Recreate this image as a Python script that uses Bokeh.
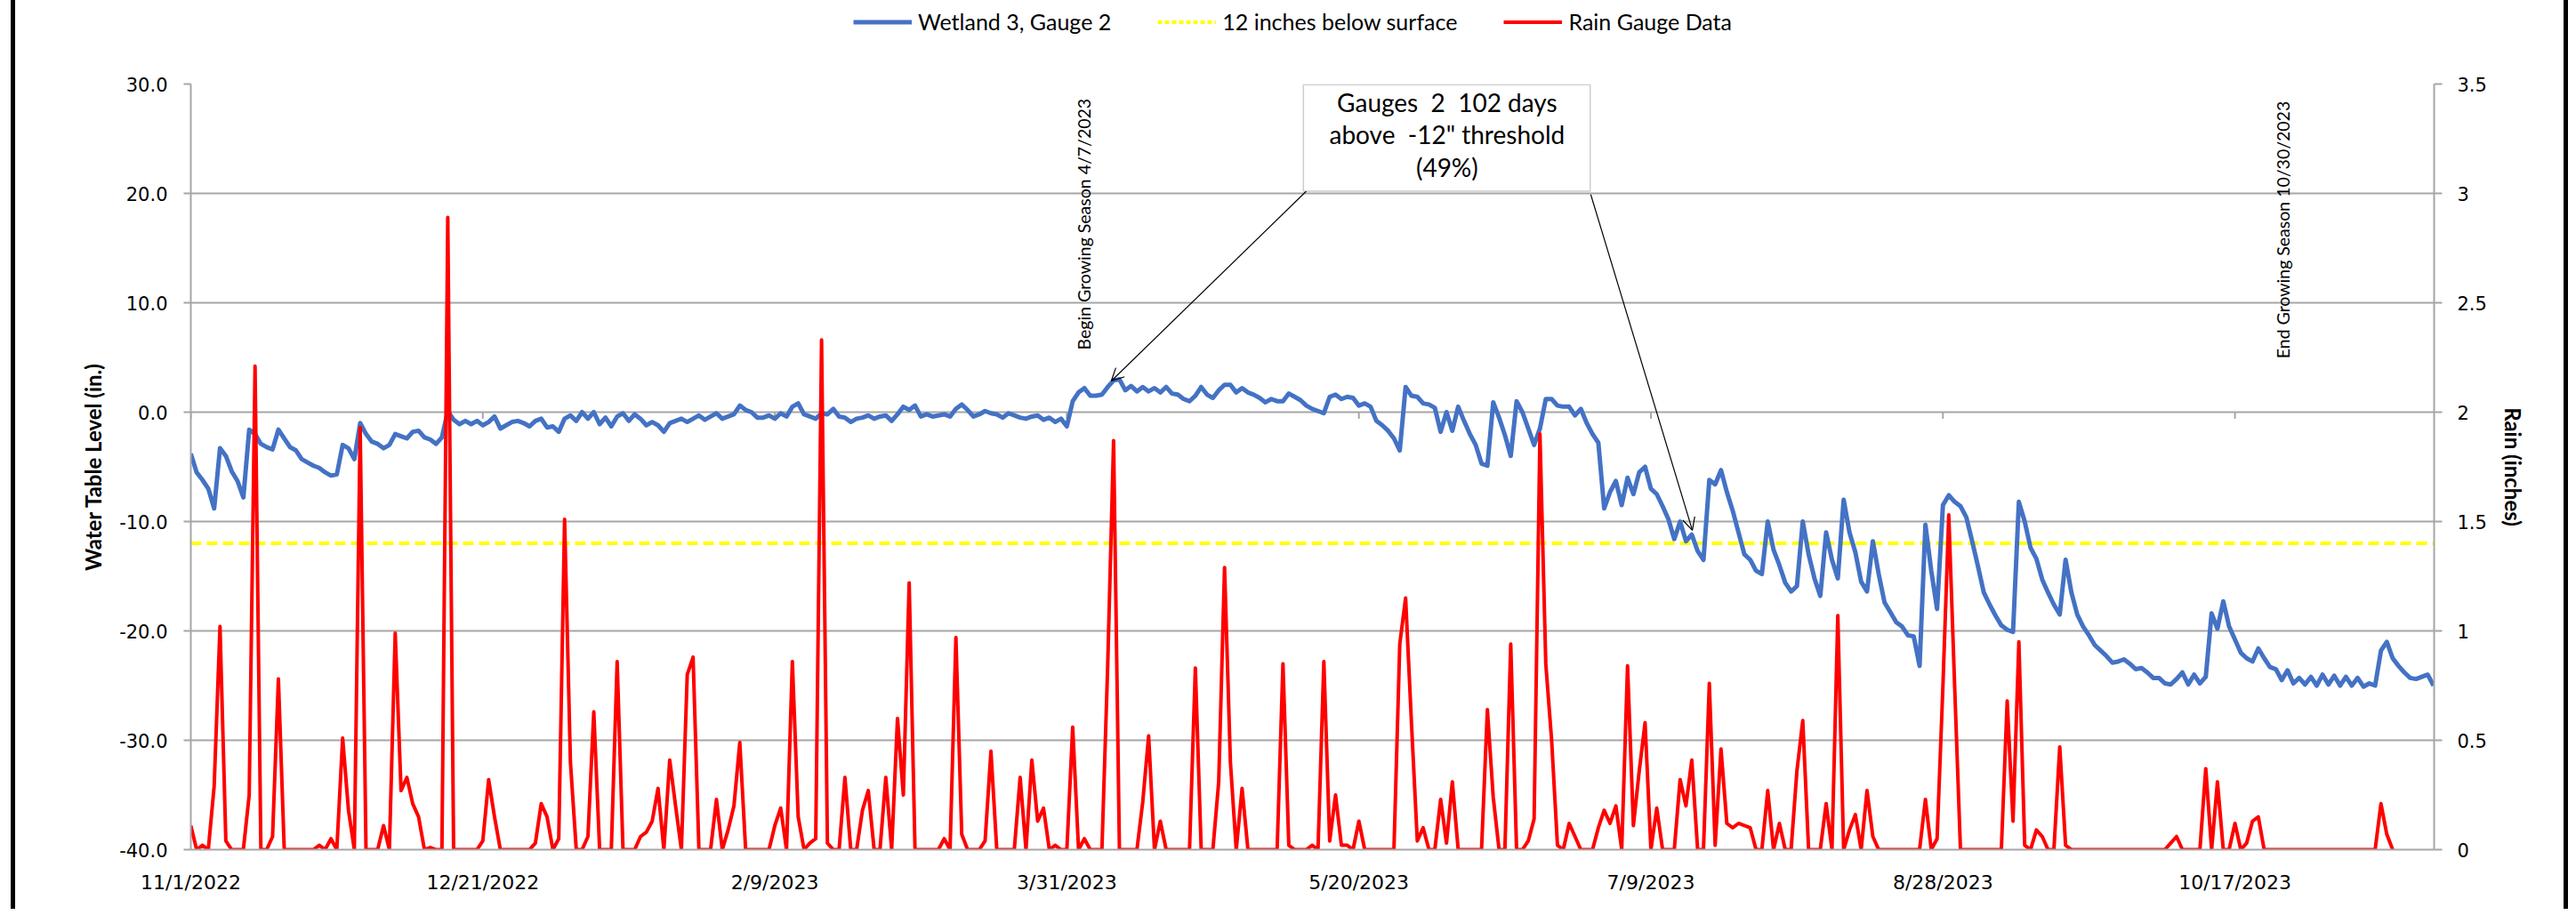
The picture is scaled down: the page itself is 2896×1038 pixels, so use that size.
import math
import pandas as pd
from bokeh.plotting import figure
from bokeh.layouts import row, column
from bokeh.models import (Range1d, LinearAxis, FixedTicker, Legend, LegendItem, Label,
                          Arrow, OpenHead, BoxAnnotation, NumeralTickFormatter, Div, Spacer)
from bokeh.embed import file_html
from bokeh.resources import INLINE

# ---------------- data ----------------
START_DATE = "11/1/2022"
TICK_LABELS = ["11/1/2022", "12/21/2022", "2/9/2023", "3/31/2023",
               "5/20/2023", "7/9/2023", "8/28/2023", "10/17/2023"]
LEVEL_TICKS = [-40, -30, -20, -10, 0, 10, 20, 30]
RAIN_TICKS = [0, 0.5, 1, 1.5, 2, 2.5, 3, 3.5]
THRESHOLD = -12.0
SERIES_NAMES = ["Wetland 3, Gauge 2", "12 inches below surface", "Rain Gauge Data"]

# daily water table level (in.), starting 11/1/2022
WATER_LEVEL = [
    -3.8, -5.5, -6.2, -7.0, -8.8, -3.3, -4.0, -5.4, -6.3, -7.8,
    -1.6, -2.0, -2.9, -3.2, -3.4, -1.6, -2.4, -3.2, -3.5, -4.3,
    -4.6, -4.9, -5.1, -5.5, -5.8, -5.7, -3.0, -3.3, -4.3, -1.0,
    -2.0, -2.7, -2.9, -3.3, -3.0, -2.0, -2.2, -2.4, -1.8, -1.7,
    -2.3, -2.5, -2.9, -2.3, 0.1, -0.7, -1.1, -0.8, -1.1, -0.8,
    -1.2, -0.9, -0.4, -1.5, -1.2, -0.9, -0.8, -1.0, -1.3, -0.8,
    -0.6, -1.4, -1.3, -1.8, -0.6, -0.3, -0.8, 0.0, -0.6, 0.0,
    -1.1, -0.5, -1.3, -0.4, -0.1, -0.8, -0.2, -0.6, -1.2, -0.9,
    -1.2, -1.8, -1.0, -0.8, -0.6, -0.9, -0.6, -0.3, -0.7, -0.4,
    -0.1, -0.6, -0.4, -0.2, 0.6, 0.2, 0.0, -0.5, -0.5, -0.3,
    -0.6, -0.1, -0.4, 0.5, 0.8, -0.2, -0.4, -0.6, -0.1, -0.2,
    0.3, -0.4, -0.5, -0.9, -0.6, -0.5, -0.3, -0.6, -0.4, -0.3,
    -0.8, -0.2, 0.5, 0.2, 0.6, -0.4, -0.2, -0.4, -0.3, -0.2,
    -0.4, 0.3, 0.7, 0.2, -0.4, -0.2, 0.1, -0.1, -0.2, -0.5,
    -0.1, -0.3, -0.5, -0.6, -0.4, -0.3, -0.7, -0.5, -0.9, -0.6,
    -1.3, 1.0, 1.8, 2.2, 1.5, 1.5, 1.6, 2.3, 2.9, 3.0,
    2.0, 2.4, 1.9, 2.3, 1.9, 2.2, 1.8, 2.3, 1.7, 1.6,
    1.2, 1.0, 1.5, 2.3, 1.6, 1.3, 2.0, 2.5, 2.5, 1.8,
    2.2, 1.8, 1.6, 1.3, 0.9, 1.2, 1.0, 1.0, 1.7, 1.4,
    1.1, 0.6, 0.3, 0.1, -0.1, 1.4, 1.6, 1.2, 1.4, 1.3,
    0.6, 0.8, 0.5, -0.8, -1.2, -1.7, -2.4, -3.5, 2.3, 1.5,
    1.4, 0.8, 0.7, 0.4, -1.8, 0.0, -1.7, 0.5, -0.8, -2.0,
    -3.0, -4.7, -4.9, 0.9, -0.5, -2.1, -4.0, 1.0, 0.0, -1.5,
    -3.0, -1.5, 1.2, 1.2, 0.6, 0.5, 0.5, -0.3, 0.3, -1.0,
    -2.0, -2.8, -8.8, -7.3, -6.3, -8.5, -6.0, -7.5, -5.5, -5.0,
    -7.0, -7.5, -8.6, -9.8, -11.6, -10.0, -11.8, -11.2, -12.7, -13.5,
    -6.2, -6.6, -5.3, -7.3, -9.0, -11.0, -13.0, -13.5, -14.5, -14.8,
    -10.0, -12.6, -14.0, -15.6, -16.4, -15.9, -10.0, -13.0, -15.2, -16.8,
    -11.0, -13.5, -15.2, -8.0, -11.0, -12.8, -15.5, -16.4, -11.8, -14.8,
    -17.4, -18.3, -19.2, -19.6, -20.4, -20.5, -23.2, -10.3, -14.5, -18.0,
    -8.5, -7.6, -8.2, -8.6, -9.6, -11.8, -14.1, -16.5, -17.6, -18.6,
    -19.5, -19.9, -20.1, -8.2, -10.0, -12.4, -13.4, -15.3, -16.5, -17.6,
    -18.5, -13.5, -16.5, -18.5, -19.6, -20.4, -21.3, -21.8, -22.3, -22.9,
    -22.8, -22.6, -23.0, -23.5, -23.4, -23.8, -24.3, -24.3, -24.8, -24.9,
    -24.4, -23.8, -24.9, -24.0, -24.8, -24.2, -18.4, -19.8, -17.3, -19.6,
    -20.8, -22.0, -22.5, -22.8, -21.6, -22.5, -23.3, -23.5, -24.5, -23.6,
    -24.8, -24.3, -24.9, -24.2, -25.0, -24.0, -24.9, -24.1, -25.0, -24.2,
    -25.0, -24.3, -25.1, -24.8, -25.0, -21.8, -21.0, -22.5, -23.2, -23.8,
    -24.3, -24.4, -24.2, -24.0, -25.0,
]

# daily rain (inches), starting 11/1/2022
RAIN = [
    0.11, 0, 0.02, 0, 0.29, 1.02, 0.04, 0, 0, 0,
    0.25, 2.21, 0, 0, 0.06, 0.78, 0, 0, 0, 0,
    0, 0, 0.02, 0, 0.05, 0, 0.51, 0.18, 0, 1.93,
    0, 0, 0, 0.11, 0, 0.99, 0.27, 0.33, 0.21, 0.15,
    0, 0.01, 0, 0, 2.89, 0, 0, 0, 0, 0,
    0.04, 0.32, 0.15, 0, 0, 0, 0, 0, 0, 0.03,
    0.21, 0.15, 0, 0.05, 1.51, 0.40, 0, 0, 0.06, 0.63,
    0, 0, 0, 0.86, 0, 0, 0, 0.06, 0.08, 0.13,
    0.28, 0, 0.41, 0.20, 0, 0.80, 0.88, 0, 0, 0,
    0.23, 0, 0.09, 0.20, 0.49, 0, 0, 0, 0, 0,
    0.11, 0.19, 0, 0.86, 0.15, 0, 0.03, 0.05, 2.33, 0.03,
    0, 0, 0.33, 0, 0, 0.18, 0.27, 0, 0, 0.33,
    0, 0.60, 0.25, 1.22, 0, 0, 0, 0, 0, 0.05,
    0, 0.97, 0.07, 0, 0, 0, 0.04, 0.45, 0, 0,
    0, 0, 0.33, 0, 0.41, 0.13, 0.19, 0, 0.02, 0,
    0, 0.56, 0, 0.05, 0, 0, 0, 0.85, 1.87, 0,
    0, 0, 0, 0.22, 0.52, 0, 0.13, 0, 0, 0,
    0, 0, 0.83, 0, 0, 0, 0.31, 1.29, 0.40, 0,
    0.28, 0, 0, 0, 0, 0, 0, 0.85, 0.02, 0,
    0, 0, 0.02, 0, 0.86, 0.04, 0.25, 0.02, 0.02, 0,
    0.13, 0, 0, 0, 0, 0, 0, 0.94, 1.15, 0.58,
    0.04, 0.10, 0, 0, 0.23, 0.03, 0.31, 0, 0, 0,
    0, 0, 0.64, 0.24, 0, 0, 0.94, 0, 0, 0.04,
    0.14, 1.90, 0.85, 0.50, 0.02, 0, 0.12, 0.06, 0, 0,
    0, 0.10, 0.18, 0.12, 0.20, 0, 0.84, 0.11, 0.36, 0.58,
    0, 0.19, 0, 0, 0, 0.32, 0.20, 0.41, 0, 0,
    0.76, 0.02, 0.46, 0.12, 0.10, 0.12, 0.11, 0.10, 0, 0,
    0.27, 0, 0.12, 0, 0, 0.36, 0.59, 0, 0, 0,
    0.21, 0, 1.07, 0, 0.09, 0.16, 0, 0.27, 0.06, 0,
    0, 0, 0, 0, 0, 0, 0, 0.23, 0, 0.05,
    0.75, 1.53, 0.75, 0, 0, 0, 0, 0, 0, 0,
    0, 0.68, 0.13, 0.95, 0.02, 0, 0.09, 0.06, 0, 0,
    0.47, 0.02, 0, 0, 0, 0, 0, 0, 0, 0,
    0, 0, 0, 0, 0, 0, 0, 0, 0, 0.03,
    0.06, 0, 0, 0, 0, 0.37, 0, 0.31, 0, 0,
    0.12, 0, 0.03, 0.13, 0.15, 0, 0, 0, 0, 0,
    0, 0, 0, 0, 0, 0, 0, 0, 0, 0,
    0, 0, 0, 0, 0, 0.21, 0.07, 0,
]

BOX_TEXT = ["Gauges\u00a0 2\u00a0 102 days", "above\u00a0 -12\" threshold", "(49%)"]
BEGIN_TEXT = "Begin Growing Season 4/7/2023"
END_TEXT = "End Growing Season 10/30/2023"

# ---------------- derived ----------------
start = pd.to_datetime(START_DATE, format="%m/%d/%Y")
tick_days = [int((pd.to_datetime(t, format="%m/%d/%Y") - start).days) for t in TICK_LABELS]
level_days = list(range(len(WATER_LEVEL)))
rain_days = list(range(len(RAIN)))

# ---------------- styles ----------------
GRID = "#a6a6a6"
CAL = "Lato"
VER = "DejaVu Sans"
BLUE, YELLOW, RED = "#4472C4", "#FFFF00", "#FF0000"
BLUE_W, YELLOW_W, RED_W = 5, 4, 4
YELLOW_DASH = "12 6"

OFF_X = 17                      # figures start right after the left black border
W = 2865
TOP_H = 66                      # legend strip
MAIN_H = 1022 - TOP_H
FL, FR = 214 - OFF_X, 2736 - OFF_X
FT, FB = 94 - TOP_H, 955 - TOP_H

# ---------------- legend strip ----------------
lg = figure(width=W, height=TOP_H, output_backend="svg", toolbar_location=None,
            x_axis_type=None, y_axis_type=None, x_range=Range1d(0, 1), y_range=Range1d(0, 1),
            min_border=0, outline_line_color=None,
            background_fill_color="white", border_fill_color="white")
lg.grid.visible = False
# legend-only renderers: their points lie outside the strip's visible range
r1 = lg.line(x=[5, 6], y=[5, 6], line_color=BLUE, line_width=BLUE_W)
r2 = lg.line(x=[5, 6], y=[5, 6], line_color=YELLOW, line_width=YELLOW_W, line_dash="5 3")
r3 = lg.line(x=[5, 6], y=[5, 6], line_color=RED, line_width=RED_W)
legend = Legend(items=[LegendItem(label=SERIES_NAMES[0], renderers=[r1]),
                       LegendItem(label=SERIES_NAMES[1], renderers=[r2]),
                       LegendItem(label=SERIES_NAMES[2], renderers=[r3])],
                orientation="horizontal", location=(745, 27),
                label_text_font=CAL, label_text_font_size="25px", label_text_color="black",
                glyph_width=66, glyph_height=25, label_height=25, label_standoff=7,
                spacing=52, padding=0, margin=0, border_line_color=None,
                background_fill_alpha=0)
lg.add_layout(legend)

# ---------------- main figure ----------------
p = figure(width=W, height=MAIN_H, output_backend="svg", toolbar_location=None,
           x_range=Range1d(0, 384.1), y_range=Range1d(-40, 30),
           min_border_left=FL, min_border_right=W - FR,
           min_border_top=FT, min_border_bottom=MAIN_H - FB,
           background_fill_color="white", border_fill_color="white",
           outline_line_color=None)
p.extra_y_ranges = {"rain": Range1d(0, 3.5)}

# x axis
xa = p.xaxis[0]
xa.ticker = FixedTicker(ticks=tick_days)
xa.major_label_overrides = {d: lab for d, lab in zip(tick_days, TICK_LABELS)}
xa.major_tick_out = 0
xa.major_tick_in = 0
xa.minor_tick_out = 0
xa.minor_tick_in = 0
xa.axis_line_color = GRID
xa.axis_line_width = 2
xa.major_label_text_font = VER
xa.major_label_text_font_size = "22px"
xa.major_label_text_color = "black"
xa.major_label_standoff = 24
p.xgrid.visible = False

# left y axis
ya = p.yaxis[0]
ya.ticker = FixedTicker(ticks=LEVEL_TICKS)
ya.formatter = NumeralTickFormatter(format="0.0")
ya.major_tick_out = 8
ya.major_tick_in = 0
ya.minor_tick_out = 0
ya.minor_tick_in = 0
ya.major_tick_line_color = GRID
ya.major_tick_line_width = 2
ya.axis_line_color = GRID
ya.axis_line_width = 2
ya.major_label_text_font = VER
ya.major_label_text_font_size = "21px"
ya.major_label_text_color = "black"
ya.major_label_standoff = 18
ya.axis_label = "Water Table Level (in.)"
ya.axis_label_text_font = CAL
ya.axis_label_text_font_style = "bold"
ya.axis_label_text_font_size = "24px"
ya.axis_label_text_color = "black"
ya.axis_label_standoff = 12

p.ygrid.ticker = FixedTicker(ticks=LEVEL_TICKS)
p.ygrid.grid_line_color = GRID
p.ygrid.grid_line_width = 2

# right y axis
ra = LinearAxis(y_range_name="rain", ticker=FixedTicker(ticks=RAIN_TICKS),
                formatter=NumeralTickFormatter(format="0.[0]"),
                axis_label="Rain (inches)")
ra.major_tick_out = 9
ra.major_tick_in = 0
ra.minor_tick_out = 0
ra.minor_tick_in = 0
ra.major_tick_line_color = GRID
ra.major_tick_line_width = 2
ra.axis_line_color = GRID
ra.axis_line_width = 2
ra.major_label_text_font = VER
ra.major_label_text_font_size = "21px"
ra.major_label_text_color = "black"
ra.major_label_standoff = 17
ra.axis_label_text_font = CAL
ra.axis_label_text_font_style = "bold"
ra.axis_label_text_font_size = "24px"
ra.axis_label_text_color = "black"
ra.axis_label_standoff = 12
p.add_layout(ra, "right")

# small x tick marks on the zero line
p.segment(x0=tick_days, y0=[0] * len(tick_days), x1=tick_days, y1=[-0.6] * len(tick_days),
          line_color=GRID, line_width=2)

# series
p.line(level_days, [THRESHOLD] * len(level_days), line_color=YELLOW,
       line_width=YELLOW_W, line_dash=YELLOW_DASH)
p.line(level_days, WATER_LEVEL, line_color=BLUE, line_width=BLUE_W, line_join="round")
p.line(rain_days, RAIN, line_color=RED, line_width=RED_W, line_join="round",
       y_range_name="rain")

# annotation box
p.add_layout(BoxAnnotation(left=190.5, right=239.6, bottom=20.2, top=29.93,
                           fill_color="white", fill_alpha=1.0,
                           line_color="#5a5a5a", line_width=1.5, level="overlay"))
for txt, yy in zip(BOX_TEXT, [28.3, 25.4, 22.4]):
    p.add_layout(Label(x=215.1, y=yy, text=txt, text_align="center", text_baseline="middle",
                       text_font=CAL, text_font_size="28px", text_color="black", level="overlay"))

p.add_layout(Arrow(end=OpenHead(size=14, line_width=1.2, line_color="black"),
                   x_start=191.0, y_start=20.2, x_end=157.6, y_end=2.85,
                   line_color="black", line_width=1.2))
p.add_layout(Arrow(end=OpenHead(size=14, line_width=1.2, line_color="black"),
                   x_start=239.7, y_start=19.9, x_end=257.1, y_end=-10.8,
                   line_color="black", line_width=1.2))

p.add_layout(Label(x=152.9, y=5.7, text=BEGIN_TEXT, angle=math.pi / 2,
                   text_align="left", text_baseline="middle",
                   text_font=CAL, text_font_size="19.5px", text_color="black"))
p.add_layout(Label(x=358.2, y=4.9, text=END_TEXT, angle=math.pi / 2,
                   text_align="left", text_baseline="middle",
                   text_font=CAL, text_font_size="19.5px", text_color="black"))

# chart-area side borders
H = TOP_H + MAIN_H
bar_l = Div(text="", width=5, height=H, margin=0, styles={"background-color": "black"})
bar_r = Div(text="", width=5, height=H, margin=0, styles={"background-color": "black"})
layout = row(Spacer(width=12, height=H, margin=0), bar_l,
             column(lg, p, spacing=0, margin=0), bar_r, spacing=0, margin=0)

open("out.html", "w").write(file_html(layout, INLINE))
